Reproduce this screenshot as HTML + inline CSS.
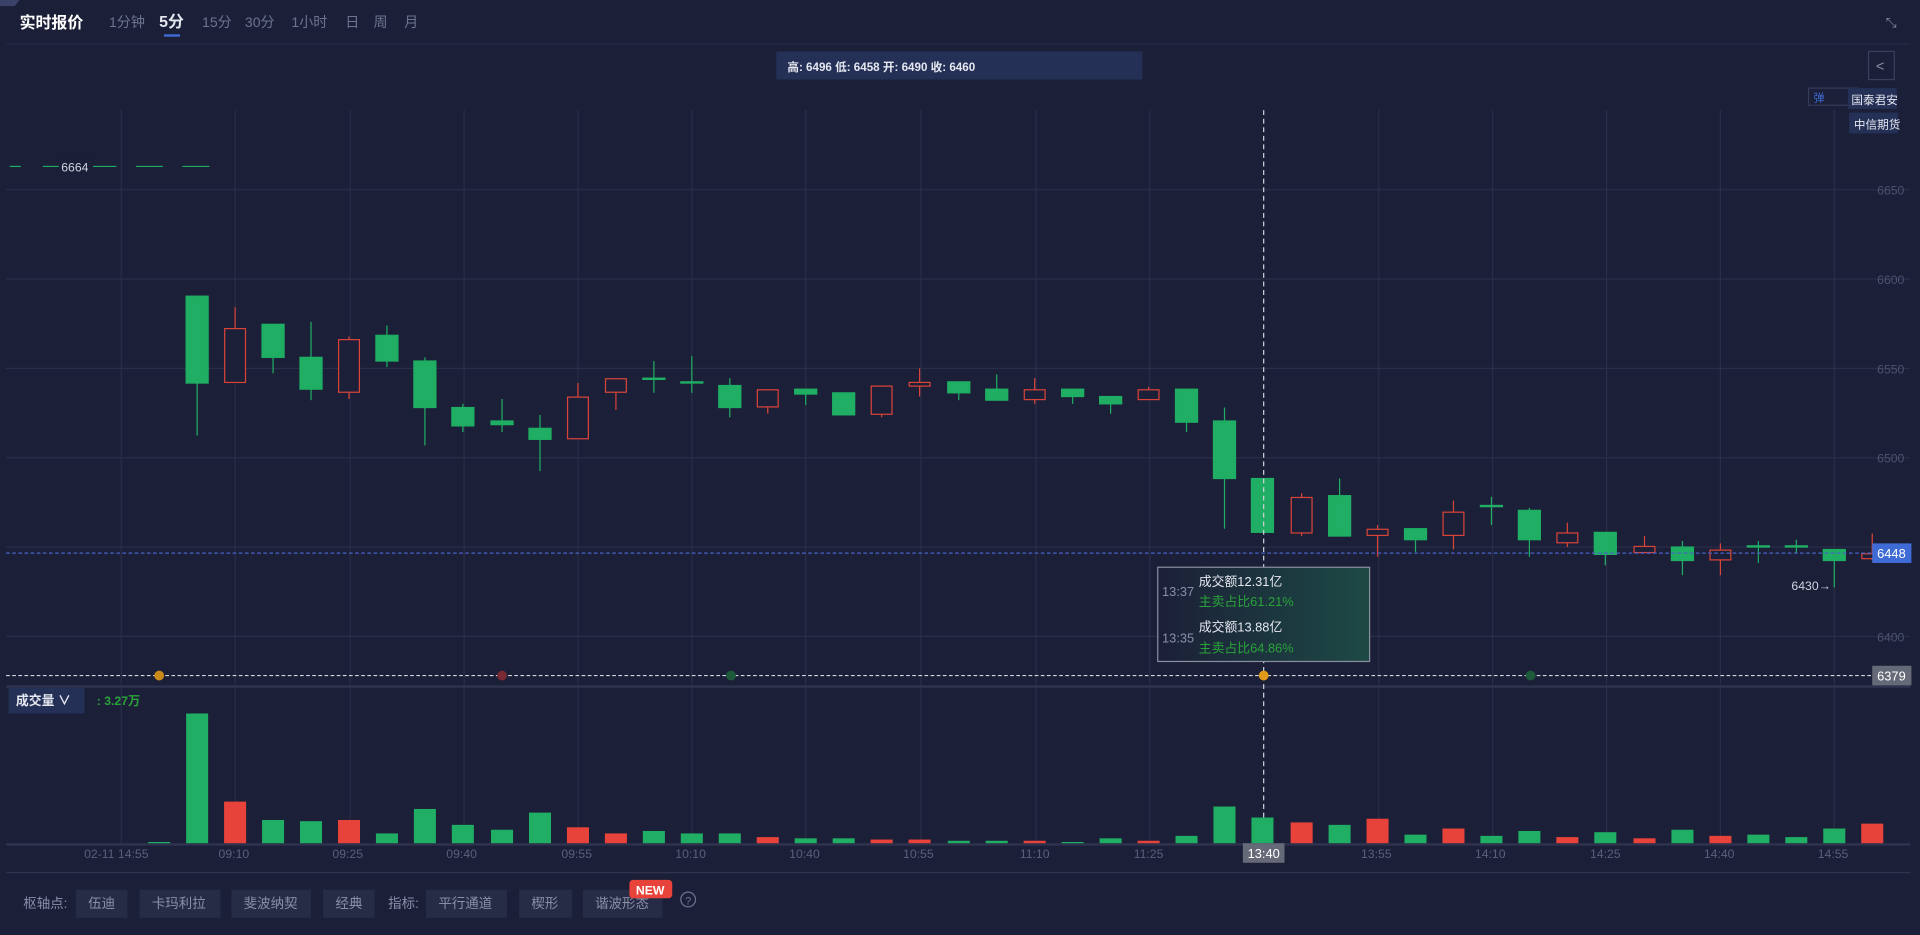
<!DOCTYPE html>
<html><head><meta charset="utf-8"><style>
html,body{margin:0;padding:0;background:#1b1f37;}
svg{display:block}
text{font-family:"Liberation Sans","Noto Sans CJK SC",sans-serif;}
</style></head><body>
<svg width="1920" height="935" viewBox="0 0 1568 764" preserveAspectRatio="none" xmlns="http://www.w3.org/2000/svg">
<rect width="1568" height="764" fill="#1b1f37"/>
<polygon points="0,0 16,0 12,5 0,5" fill="#3a4268"/>
<!-- header -->
<text x="16" y="23" font-size="13" font-weight="bold" fill="#fff">实时报价</text>
<g font-size="11.5" fill="#6e7390">
<text x="89" y="22">1分钟</text><text x="165" y="22">15分</text><text x="200" y="22">30分</text><text x="238" y="22">1小时</text><text x="282" y="22">日</text><text x="305" y="22">周</text><text x="330" y="22">月</text>
</g>
<text x="130" y="22" font-size="13" font-weight="bold" fill="#e6e8f0">5分</text>
<rect x="134" y="28" width="13" height="2" fill="#3f6bd6"/>
<line x1="5" y1="36" x2="1560" y2="36" stroke="#272b45"/>
<text x="1540" y="22" font-size="11" fill="#8a8fa8">⤡</text>
<rect x="634" y="42" width="299" height="23" fill="#243056"/>
<text x="643" y="58" font-size="9.5" font-weight="bold" fill="#e6e8f0">高: 6496 低: 6458 开: 6490 收: 6460</text>
<rect x="1526" y="42" width="21" height="23" fill="none" stroke="#3a3f5c"/>
<text x="1532" y="58" font-size="12" fill="#8a8fa8">&lt;</text>
<rect x="1477" y="72" width="40" height="14" fill="none" stroke="#343a58"/>
<text x="1481" y="83" font-size="9" fill="#3f6bd6">弹</text>
<rect x="1509" y="72" width="40" height="17" fill="#243056"/>
<text x="1512" y="85" font-size="9.5" fill="#e6e8f0">国泰君安</text>
<rect x="1510" y="92" width="40" height="17" fill="#243056"/>
<text x="1514" y="105" font-size="9.5" fill="#e6e8f0">中信期货</text>
<!-- grid -->
<g stroke="#2a2e48" stroke-width="1">
<line x1="5" y1="155" x2="1560" y2="155"/><line x1="5" y1="228" x2="1560" y2="228"/><line x1="5" y1="301" x2="1560" y2="301"/><line x1="5" y1="374" x2="1560" y2="374"/><line x1="5" y1="447" x2="1560" y2="447"/><line x1="5" y1="520" x2="1560" y2="520"/>
<line x1="99" y1="90" x2="99" y2="689"/><line x1="192" y1="90" x2="192" y2="689"/><line x1="286" y1="90" x2="286" y2="689"/><line x1="379" y1="90" x2="379" y2="689"/><line x1="472" y1="90" x2="472" y2="689"/><line x1="565" y1="90" x2="565" y2="689"/><line x1="658" y1="90" x2="658" y2="689"/><line x1="752" y1="90" x2="752" y2="689"/><line x1="846" y1="90" x2="846" y2="689"/><line x1="939" y1="90" x2="939" y2="689"/><line x1="1126" y1="90" x2="1126" y2="689"/><line x1="1219" y1="90" x2="1219" y2="689"/><line x1="1312" y1="90" x2="1312" y2="689"/><line x1="1405" y1="90" x2="1405" y2="689"/><line x1="1498" y1="90" x2="1498" y2="689"/>
</g>
<line x1="5" y1="561" x2="1560" y2="561" stroke="#2f334e" stroke-width="2"/>
<line x1="5" y1="690" x2="1560" y2="690" stroke="#2f334e" stroke-width="2"/>
<line x1="5" y1="713" x2="1560" y2="713" stroke="#2f334e"/>
<g font-size="10" fill="#4d5270">
<text x="1533" y="159">6650</text><text x="1533" y="232">6600</text><text x="1533" y="305">6550</text><text x="1533" y="378">6500</text><text x="1533" y="524">6400</text>
</g>
<!-- 6664 line -->
<g stroke="#1fae63" stroke-width="1"><line x1="8" y1="136" x2="17" y2="136"/><line x1="35" y1="136" x2="95" y2="136"/><line x1="111" y1="136" x2="133" y2="136"/><line x1="149" y1="136" x2="171" y2="136"/></g>
<rect x="48" y="129" width="28" height="13" fill="#1b1f37"/>
<text x="50" y="140" font-size="10" fill="#d0d3e0">6664</text>
<!-- candles -->
<g stroke-width="1">
<g stroke="#1fae63" fill="#1fae63">
<line x1="161" y1="242" x2="161" y2="356"/><rect x="152" y="242" width="18" height="71"/>
<line x1="223" y1="265" x2="223" y2="305"/><rect x="214" y="265" width="18" height="27"/>
<line x1="254" y1="263" x2="254" y2="327"/><rect x="245" y="292" width="18" height="26"/>
<line x1="316" y1="266" x2="316" y2="300"/><rect x="307" y="274" width="18" height="21"/>
<line x1="347" y1="292" x2="347" y2="364"/><rect x="338" y="295" width="18" height="38"/>
<line x1="378" y1="330" x2="378" y2="353"/><rect x="369" y="333" width="18" height="15"/>
<line x1="410" y1="326" x2="410" y2="353"/><rect x="401" y="344" width="18" height="3"/>
<line x1="441" y1="339" x2="441" y2="385"/><rect x="432" y="350" width="18" height="9"/>
<line x1="534" y1="295" x2="534" y2="321"/><rect x="525" y="309" width="18" height="1"/>
<line x1="565" y1="291" x2="565" y2="321"/><rect x="556" y="312" width="18" height="1"/>
<line x1="596" y1="309" x2="596" y2="341"/><rect x="587" y="315" width="18" height="18"/>
<line x1="658" y1="318" x2="658" y2="331"/><rect x="649" y="318" width="18" height="4"/>
<rect x="680" y="321" width="18" height="18"/>
<line x1="783" y1="312" x2="783" y2="327"/><rect x="774" y="312" width="18" height="9"/>
<line x1="814" y1="306" x2="814" y2="327"/><rect x="805" y="318" width="18" height="9"/>
<line x1="876" y1="318" x2="876" y2="330"/><rect x="867" y="318" width="18" height="6"/>
<line x1="907" y1="324" x2="907" y2="338"/><rect x="898" y="324" width="18" height="6"/>
<line x1="969" y1="318" x2="969" y2="353"/><rect x="960" y="318" width="18" height="27"/>
<line x1="1000" y1="333" x2="1000" y2="432"/><rect x="991" y="344" width="18" height="47"/>
<rect x="1022" y="391" width="18" height="44"/>
<line x1="1094" y1="391" x2="1094" y2="438"/><rect x="1085" y="405" width="18" height="33"/>
<line x1="1156" y1="432" x2="1156" y2="451"/><rect x="1147" y="432" width="18" height="9"/>
<line x1="1218" y1="406" x2="1218" y2="429"/><rect x="1209" y="413" width="18" height="1"/>
<line x1="1249" y1="415" x2="1249" y2="455"/><rect x="1240" y="417" width="18" height="24"/>
<line x1="1311" y1="435" x2="1311" y2="462"/><rect x="1302" y="435" width="18" height="18"/>
<line x1="1374" y1="442" x2="1374" y2="470"/><rect x="1365" y="447" width="18" height="11"/>
<line x1="1436" y1="442" x2="1436" y2="460"/><rect x="1427" y="446" width="18" height="1"/>
<line x1="1467" y1="441" x2="1467" y2="452"/><rect x="1458" y="446" width="18" height="1"/>
<line x1="1498" y1="449" x2="1498" y2="480"/><rect x="1489" y="449" width="18" height="9"/>
</g>
<g stroke="#d9443a" fill="#1b1f37">
<line x1="192" y1="251" x2="192" y2="268"/><rect x="183.5" y="268.5" width="17" height="44"/>
<line x1="285" y1="275" x2="285" y2="277"/><line x1="285" y1="321" x2="285" y2="326"/><rect x="276.5" y="277.5" width="17" height="43"/>
<line x1="472" y1="313" x2="472" y2="324"/><rect x="463.5" y="324.5" width="17" height="34"/>
<line x1="503" y1="321" x2="503" y2="335"/><rect x="494.5" y="309.5" width="17" height="11"/>
<line x1="627" y1="333" x2="627" y2="338"/><rect x="618.5" y="318.5" width="17" height="14"/>
<line x1="720" y1="339" x2="720" y2="341"/><rect x="711.5" y="315.5" width="17" height="23"/>
<line x1="751" y1="301" x2="751" y2="324"/><rect x="742.5" y="312.5" width="17" height="3"/>
<line x1="845" y1="309" x2="845" y2="330"/><rect x="836.5" y="318.5" width="17" height="8"/>
<line x1="938" y1="316" x2="938" y2="318"/><rect x="929.5" y="318.5" width="17" height="8"/>
<line x1="1063" y1="403" x2="1063" y2="438"/><rect x="1054.5" y="406.5" width="17" height="29"/>
<line x1="1125" y1="429" x2="1125" y2="455"/><rect x="1116.5" y="432.5" width="17" height="5"/>
<line x1="1187" y1="409" x2="1187" y2="449"/><rect x="1178.5" y="418.5" width="17" height="19"/>
<line x1="1280" y1="427" x2="1280" y2="447"/><rect x="1271.5" y="435.5" width="17" height="8"/>
<line x1="1343" y1="438" x2="1343" y2="452"/><rect x="1334.5" y="446.5" width="17" height="5"/>
<line x1="1405" y1="444" x2="1405" y2="470"/><rect x="1396.5" y="449.5" width="17" height="8"/>
<line x1="1529" y1="436" x2="1529" y2="458"/><rect x="1520.5" y="452.5" width="10" height="4"/>
</g>
</g>
<!-- price lines -->
<line x1="5" y1="452" x2="1528" y2="452" stroke="#4a63c8" stroke-dasharray="3,2"/>
<rect x="1529" y="444" width="32" height="16" fill="#3f6bd6"/>
<text x="1533" y="456" font-size="10.5" fill="#fff">6448</text>
<text x="1463" y="482" font-size="10" fill="#d0d3e0">6430→</text>
<line x1="5" y1="552" x2="1528" y2="552" stroke="#d6d8e0" stroke-dasharray="3,2"/>
<rect x="1529" y="544" width="32" height="16" fill="#666a78"/>
<text x="1533" y="556" font-size="10.5" fill="#fff">6379</text>
<line x1="1032" y1="90" x2="1032" y2="689" stroke="#cfd1da" stroke-dasharray="4,3"/>
<circle cx="130" cy="552" r="4" fill="#c98a1a"/><circle cx="410" cy="552" r="4" fill="#7a2a33"/><circle cx="597" cy="552" r="4" fill="#1c5a3a"/><circle cx="1032" cy="552" r="4" fill="#e09a1a"/><circle cx="1250" cy="552" r="4" fill="#1c5a3a"/>
<!-- tooltip -->
<defs><linearGradient id="tg" x1="0" x2="1" y1="0" y2="0"><stop offset="0" stop-color="#1b1f37"/><stop offset="1" stop-color="#1d4a45"/></linearGradient></defs>
<rect x="945.5" y="463.5" width="173" height="77" fill="url(#tg)" stroke="#8a8ea0"/>
<g font-size="10.5">
<text x="949" y="487" fill="#8a8ea8">13:37</text><text x="979" y="479" fill="#e6e8f0">成交额12.31亿</text><text x="979" y="495" fill="#2aa33a">主卖占比61.21%</text>
<text x="949" y="525" fill="#8a8ea8">13:35</text><text x="979" y="516" fill="#e6e8f0">成交额13.88亿</text><text x="979" y="533" fill="#2aa33a">主卖占比64.86%</text>
</g>
<!-- volume -->
<rect x="7" y="562" width="62" height="21" fill="#243056"/>
<text x="13" y="576" font-size="10.5" font-weight="bold" fill="#e6e8f0">成交量 ∨</text>
<text x="79" y="576" font-size="10" font-weight="bold" fill="#2aa33a">: 3.27万</text>
<g fill="#1fae63">
<rect x="121" y="688" width="18" height="1"/>
<rect x="152" y="583" width="18" height="106"/><rect x="214" y="670" width="18" height="19"/><rect x="245" y="671" width="18" height="18"/><rect x="307" y="681" width="18" height="8"/><rect x="338" y="661" width="18" height="28"/><rect x="369" y="674" width="18" height="15"/><rect x="401" y="678" width="18" height="11"/><rect x="432" y="664" width="18" height="25"/><rect x="525" y="679" width="18" height="10"/><rect x="556" y="681" width="18" height="8"/><rect x="587" y="681" width="18" height="8"/><rect x="649" y="685" width="18" height="4"/><rect x="680" y="685" width="18" height="4"/><rect x="774" y="687" width="18" height="2"/><rect x="805" y="687" width="18" height="2"/><rect x="867" y="688" width="18" height="1"/><rect x="898" y="685" width="18" height="4"/><rect x="960" y="683" width="18" height="6"/><rect x="991" y="659" width="18" height="30"/><rect x="1022" y="668" width="18" height="21"/><rect x="1085" y="674" width="18" height="15"/><rect x="1147" y="682" width="18" height="7"/><rect x="1209" y="683" width="18" height="6"/><rect x="1240" y="679" width="18" height="10"/><rect x="1302" y="680" width="18" height="9"/><rect x="1365" y="678" width="18" height="11"/><rect x="1427" y="682" width="18" height="7"/><rect x="1458" y="684" width="18" height="5"/><rect x="1489" y="677" width="18" height="12"/>
</g>
<g fill="#e8433a">
<rect x="183" y="655" width="18" height="34"/><rect x="276" y="670" width="18" height="19"/><rect x="463" y="676" width="18" height="13"/><rect x="494" y="681" width="18" height="8"/><rect x="618" y="684" width="18" height="5"/><rect x="711" y="686" width="18" height="3"/><rect x="742" y="686" width="18" height="3"/><rect x="836" y="687" width="18" height="2"/><rect x="929" y="687" width="18" height="2"/><rect x="1054" y="672" width="18" height="17"/><rect x="1116" y="669" width="18" height="20"/><rect x="1178" y="677" width="18" height="12"/><rect x="1271" y="684" width="18" height="5"/><rect x="1334" y="685" width="18" height="4"/><rect x="1396" y="683" width="18" height="6"/><rect x="1520" y="673" width="18" height="16"/>
</g>
<!-- x labels -->
<g font-size="10" fill="#5a5f7c" text-anchor="middle">
<text x="95" y="701">02-11 14:55</text><text x="191" y="701">09:10</text><text x="284" y="701">09:25</text><text x="377" y="701">09:40</text><text x="471" y="701">09:55</text><text x="564" y="701">10:10</text><text x="657" y="701">10:40</text><text x="750" y="701">10:55</text><text x="845" y="701">11:10</text><text x="938" y="701">11:25</text><text x="1124" y="701">13:55</text><text x="1217" y="701">14:10</text><text x="1311" y="701">14:25</text><text x="1404" y="701">14:40</text><text x="1497" y="701">14:55</text>
</g>
<rect x="1015" y="689" width="34" height="16" fill="#666a78"/>
<text x="1032" y="701" font-size="10.5" fill="#fff" text-anchor="middle">13:40</text>
<!-- bottom toolbar -->
<g font-size="11" fill="#8a8ea8">
<text x="19" y="742">枢轴点:</text>
<rect x="62" y="727" width="42" height="23" fill="#272c46"/><text x="72" y="742">伍迪</text>
<rect x="114" y="727" width="66" height="23" fill="#272c46"/><text x="124" y="742">卡玛利拉</text>
<rect x="189" y="727" width="65" height="23" fill="#272c46"/><text x="199" y="742">斐波纳契</text>
<rect x="264" y="727" width="42" height="23" fill="#272c46"/><text x="274" y="742">经典</text>
<text x="317" y="742">指标:</text>
<rect x="348" y="727" width="66" height="23" fill="#272c46"/><text x="358" y="742">平行通道</text>
<rect x="424" y="727" width="43" height="23" fill="#272c46"/><text x="434" y="742">楔形</text>
<rect x="476" y="727" width="65" height="23" fill="#272c46"/><text x="486" y="742">谐波形态</text>
</g>
<rect x="514" y="719" width="35" height="15" rx="3" fill="#e8433a"/>
<text x="531" y="731" font-size="10" font-weight="bold" fill="#fff" text-anchor="middle">NEW</text>
<circle cx="562" cy="735" r="6" fill="none" stroke="#6e7390"/>
<text x="562" y="739" font-size="9" fill="#6e7390" text-anchor="middle">?</text>
</svg>
</body></html>
